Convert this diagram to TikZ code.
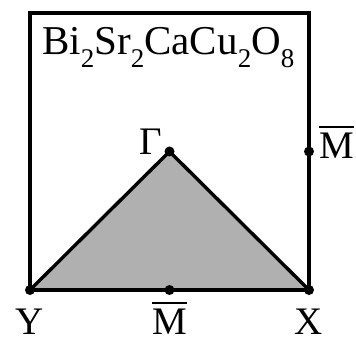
\documentclass[tikz,border=0pt]{standalone}
\usepackage{fontspec}
\setmainfont{Liberation Serif}
\newcommand{\lowsub}[1]{\raisebox{-0.3em}{\fontsize{27}{27}\selectfont #1}}
\newsavebox{\mbx}
\newcommand{\barM}{\sbox{\mbx}{M}\rlap{\raisebox{0.8em}{\rule{\wd\mbx}{2.2pt}}}\usebox{\mbx}}
\begin{document}
\begin{tikzpicture}[x=1pt,y=1pt,
  edge/.style={line width=3.4pt},
  pt/.style={circle,fill=black,inner sep=0pt,minimum size=10pt},
  lbl/.style={font=\fontsize{39}{39}\selectfont,inner sep=0pt}]
\useasboundingbox (0,0) rectangle (356,342);
\coordinate (Y) at (30,52);
\coordinate (X) at (309,52);
\coordinate (TR) at (309,329);
\coordinate (TL) at (30,329);
\coordinate (G) at (169.5,190.5);
\coordinate (MR) at (309,190.5);
\coordinate (MB) at (169.5,52);
\fill[black!31] (Y) -- (G) -- (X) -- cycle;
\draw[edge] (Y) -- (G) -- (X);
\draw[edge,line join=miter] (Y) -- (X) -- (TR) -- (TL) -- cycle;
\node[pt] (nY) at (Y) {};
\node[pt] (nX) at (X) {};
\node[pt] (nG) at (G) {};
\node[pt] (nMR) at (MR) {};
\node[pt] (nMB) at (MB) {};
\node[font=\fontsize{41}{41}\selectfont,inner sep=0pt,anchor=base west] (title) at (42,287) {Bi\lowsub{2}Sr\lowsub{2}CaCu\lowsub{2}O\lowsub{8}};
\node[lbl,anchor=base east] (lG) at (162,187) {Γ};
\node[lbl,anchor=base west] (lMR) at (319,183) {\barM};
\node[lbl,anchor=base] (lY) at (30,7) {Y};
\node[lbl,anchor=base] (lMB) at (169.5,7) {\barM};
\node[lbl,anchor=base] (lX) at (309,7) {X};
\end{tikzpicture}
\end{document}
